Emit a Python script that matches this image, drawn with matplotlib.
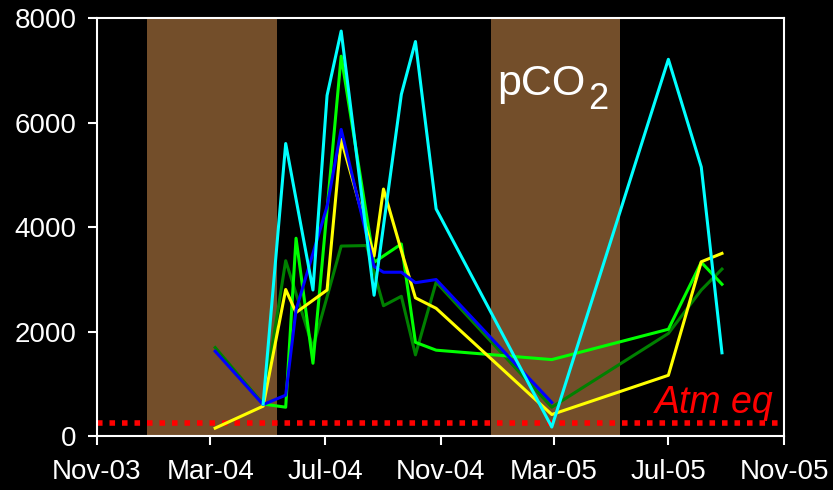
import pandas as pd
import matplotlib
matplotlib.use("Agg")
import matplotlib.pyplot as plt
import matplotlib.dates as mdates

plt.rcParams["font.family"] = ["Liberation Sans", "DejaVu Sans"]

# sampling dates (shared by all sites, None = no sample)
sample_dates = ["2004-03-06", "2004-04-26", "2004-05-20", "2004-05-31", "2004-06-18",
                "2004-07-03", "2004-07-18", "2004-08-14", "2004-08-22", "2004-09-01",
                "2004-09-20", "2004-10-05", "2004-10-27", "2005-02-27", "2005-07-01",
                "2005-08-05", "2005-08-27"]

pco2_cyan = [None, 620, 5600, None, 2800, 6520, 7750, None, 2700, None,
             6540, 7550, 4350, 180, 7210, 5150, 1600]
pco2_green = [None, 620, 560, 3790, 1400, None, 7270, None, 3330, None,
              3680, 1800, 1650, 1470, 2050, 3330, 2910]
pco2_darkgreen = [1700, 620, 3360, None, 1700, None, 3640, 3650, None, 2500,
                  2680, 1560, 2950, 560, 1970, 2800, 3200]
pco2_yellow = [160, 580, 2810, 2370, None, 2800, 5680, None, 3450, 4730,
               3550, 2650, 2450, 420, 1170, 3340, 3500]
pco2_blue = [1630, 610, 790, 2420, None, 4400, 5870, None, 3250, 3140,
             3140, 2940, 3000, 650, None, None, None]

# ice-covered periods
ice_start = ["2003-12-24", "2004-12-24"]
ice_end = ["2004-05-11", "2005-05-11"]

atm_eq = 255

df = pd.DataFrame({
    "date": pd.to_datetime(sample_dates),
    "darkgreen": pco2_darkgreen,
    "green": pco2_green,
    "yellow": pco2_yellow,
    "blue": pco2_blue,
    "cyan": pco2_cyan,
}, dtype=object)
df["date"] = pd.to_datetime(df["date"])

colors = {
    "darkgreen": "#008000",
    "green": "#00FF00",
    "yellow": "#FFFF00",
    "blue": "#0000FF",
    "cyan": "#00FFFF",
}

fig = plt.figure(figsize=(8.33, 4.90), dpi=100, facecolor="black")
ax = fig.add_axes([0.1161, 0.1092, 0.8251, 0.8541])
ax.set_facecolor("black")

for s, e in zip(ice_start, ice_end):
    ax.axvspan(pd.Timestamp(s), pd.Timestamp(e), color="#734E2A", lw=0, zorder=0)

ax.axhline(atm_eq, color="#FF0000", lw=4, dashes=(1, 1.25),
           dash_capstyle="butt", zorder=1)

for name in ["darkgreen", "green", "yellow", "blue", "cyan"]:
    d = df[["date", name]].dropna()
    ax.plot(d["date"], d[name].astype(float), color=colors[name], lw=2.2, zorder=2)

ax.set_xlim(pd.Timestamp("2003-11-01"), pd.Timestamp("2005-11-01"))
ax.set_ylim(0, 8000)
ax.set_yticks([0, 2000, 4000, 6000, 8000])
ax.xaxis.set_major_locator(mdates.MonthLocator(bymonth=[3, 7, 11]))
ax.xaxis.set_major_formatter(mdates.DateFormatter("%b-%y"))

for sp in ax.spines.values():
    sp.set_color("white")
    sp.set_linewidth(1.5)
    sp.set_zorder(3)

ax.tick_params(axis="both", colors="white", labelsize=20, length=6.5, width=1.5,
               direction="out")
ax.tick_params(axis="y", pad=8)
ax.tick_params(axis="x", pad=10)

ax.text(0.5824, 0.816, "pCO", color="white", fontsize=31,
        transform=ax.transAxes, ha="left", va="baseline")
ax.text(0.7155, 0.7829, "2", color="white", fontsize=26,
        transform=ax.transAxes, ha="left", va="baseline")
ax.text(0.8123, 0.0554, "Atm eq", color="#FF0000", fontsize=27, style="italic",
        transform=ax.transAxes, ha="left", va="baseline")

plt.savefig("out.png", dpi=100, facecolor="black")
